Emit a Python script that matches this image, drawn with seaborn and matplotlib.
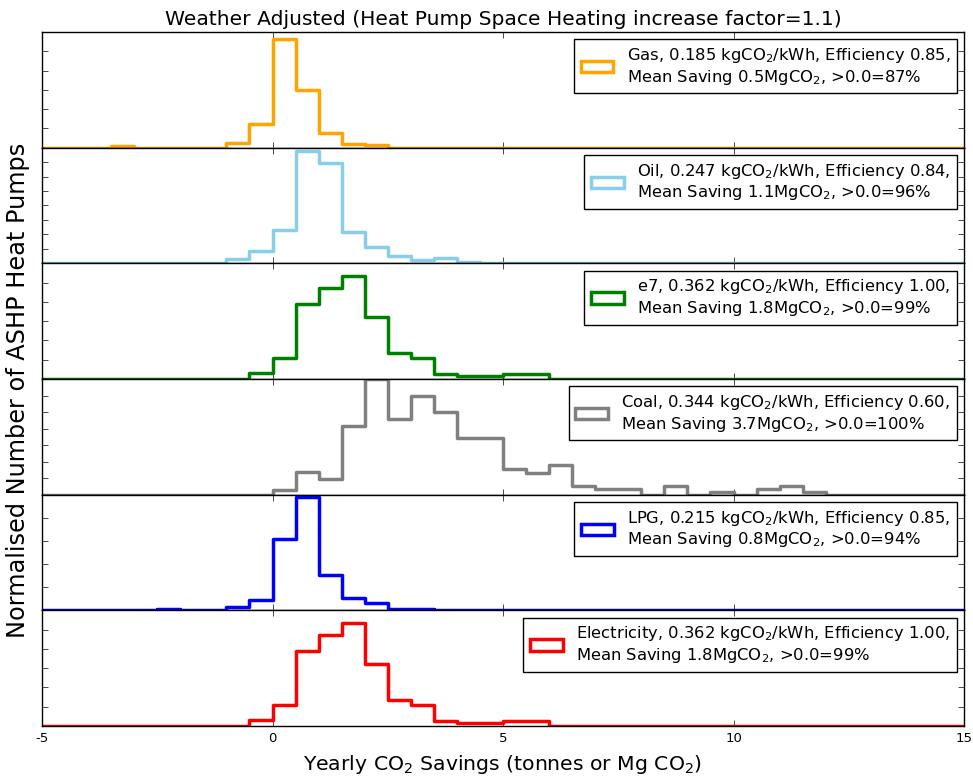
import numpy as np
import pandas as pd
import matplotlib
matplotlib.use("Agg")
import matplotlib.pyplot as plt
from matplotlib.patches import Patch
import seaborn as sns

# Histogram bins: 0.5 tonne wide, from -5 to 15
bin_edges = np.arange(-5.0, 15.0 + 0.25, 0.5)
bin_centres = bin_edges[:-1] + 0.25

# Normalised counts per bin (40 bins, left edge -5 ... 14.5)
gas = [0, 0, 0, 0.018, 0, 0, 0, 0, 0.052, 0.242,
       1.128, 0.594, 0.148, 0.042, 0.024, 0, 0, 0, 0, 0,
       0, 0, 0, 0, 0, 0, 0, 0, 0, 0,
       0, 0, 0, 0, 0, 0, 0, 0, 0, 0]
oil = [0, 0, 0, 0, 0, 0, 0, 0, 0.028, 0.085,
       0.23, 0.775, 0.694, 0.214, 0.11, 0.053, 0.023, 0.034, 0.007, 0,
       0, 0, 0, 0, 0, 0, 0, 0, 0, 0,
       0, 0, 0, 0, 0, 0, 0, 0, 0, 0]
e7 = [0, 0, 0, 0, 0, 0, 0, 0, 0, 0.03,
      0.111, 0.391, 0.47, 0.534, 0.322, 0.137, 0.107, 0.028, 0.017, 0.017,
      0.028, 0.028, 0, 0, 0, 0, 0, 0, 0, 0,
      0, 0, 0, 0, 0, 0, 0, 0, 0, 0]
coal = [0, 0, 0, 0, 0, 0, 0, 0, 0, 0,
        0.0155, 0.0685, 0.046, 0.209, 0.35, 0.2295, 0.299, 0.25, 0.1705, 0.1705,
        0.0765, 0.0665, 0.089, 0.0275, 0.0175, 0.0175, 0, 0.0275, 0, 0.007,
        0, 0.0175, 0.0275, 0.007, 0, 0, 0, 0, 0, 0]
lpg = [0, 0, 0, 0, 0, 0.014, 0, 0, 0.03, 0.09,
       0.614, 0.98, 0.306, 0.106, 0.064, 0.014, 0.012, 0, 0, 0,
       0, 0, 0, 0, 0, 0, 0, 0, 0, 0,
       0, 0, 0, 0, 0, 0, 0, 0, 0, 0]
electricity = [0, 0, 0, 0, 0, 0, 0, 0, 0, 0.03,
               0.111, 0.391, 0.47, 0.534, 0.322, 0.137, 0.107, 0.028, 0.017, 0.017,
               0.028, 0.028, 0, 0, 0, 0, 0, 0, 0, 0,
               0, 0, 0, 0, 0, 0, 0, 0, 0, 0]

fuels = ["Gas", "Oil", "e7", "Coal", "LPG", "Electricity"]
series = [gas, oil, e7, coal, lpg, electricity]
colours = ["orange", "skyblue", "green", "gray", "blue", "red"]
co2_factor = ["0.185", "0.247", "0.362", "0.344", "0.215", "0.362"]
efficiency = ["0.85", "0.84", "1.00", "0.60", "0.85", "1.00"]
mean_saving = ["0.5", "1.1", "1.8", "3.7", "0.8", "1.8"]
pct_positive = ["87", "96", "99", "100", "94", "99"]
y_top = [1.2, 0.8, 0.6, 0.35, 1.0, 0.6]
y_step = [0.2, 0.1, 0.1, 0.05, 0.2, 0.1]

plt.style.use("classic")
sns.set_style("ticks", {"xtick.direction": "in", "ytick.direction": "in"})
plt.rcParams.update({
    "font.family": ["DejaVu Sans"],
    "mathtext.fontset": "dejavusans",
    "mathtext.default": "regular",
    "figure.facecolor": "white",
    "savefig.facecolor": "white",
    "axes.edgecolor": "black",
    "axes.linewidth": 1.0,
    "axes.labelcolor": "black",
    "text.color": "black",
    "xtick.top": True,
    "ytick.right": True,
    "xtick.major.size": 4,
    "ytick.major.size": 4,
    "xtick.color": "black",
    "ytick.color": "black",
})

fig, axes = plt.subplots(6, 1, sharex=True, figsize=(9.73, 7.76), dpi=100)
fig.subplots_adjust(left=0.0432, right=0.9908, top=0.9588, bottom=0.0644, hspace=0)

for ax, name, vals, col, fac, eff, ms, pct, top, step in zip(
        axes, fuels, series, colours, co2_factor, efficiency,
        mean_saving, pct_positive, y_top, y_step):
    df = pd.DataFrame({"saving": bin_centres, "weight": vals})
    sns.histplot(data=df, x="saving", weights="weight", bins=bin_edges.tolist(),
                 element="step", fill=False, color=col, linewidth=2.5, ax=ax)
    ax.set_xlim(-5, 15)
    ax.set_ylim(0, top)
    ax.set_yticks(np.arange(0, top + step / 2, step))
    ax.set_yticklabels([])
    ax.set_ylabel("")
    ax.set_xlabel("")
    ax.tick_params(axis="both", which="both", direction="in", top=True,
                   right=True, length=4, labelsize=9.5, colors="black")
    label = (f"{name}, {fac} kgCO$_2$/kWh, Efficiency {eff},\n"
             f"Mean Saving {ms}MgCO$_2$, >0.0={pct}%")
    handle = Patch(facecolor="none", edgecolor=col, linewidth=2.5)
    leg = ax.legend([handle], [label], loc="upper right", fontsize=11.8,
                    fancybox=False, frameon=True, borderaxespad=0.45,
                    handlelength=2.0, handleheight=0.7, labelcolor="black")
    leg.get_frame().set_edgecolor("black")
    leg.get_frame().set_linewidth(1.0)

axes[-1].set_xticks([-5, 0, 5, 10, 15])
axes[-1].set_xticklabels(["-5", "0", "5", "10", "15"])
axes[-1].set_xlabel("Yearly CO$_2$ Savings (tonnes or Mg CO$_2$)", fontsize=14.7,
                    color="black", labelpad=6)
axes[0].set_title("Weather Adjusted (Heat Pump Space Heating increase factor=1.1)",
                  fontsize=14.6, pad=5, color="black")
fig.text(0.019, 0.497, "Normalised Number of ASHP Heat Pumps",
         rotation=90, ha="center", va="center", fontsize=17.3, color="black")

fig.savefig("out.png", dpi=100)
